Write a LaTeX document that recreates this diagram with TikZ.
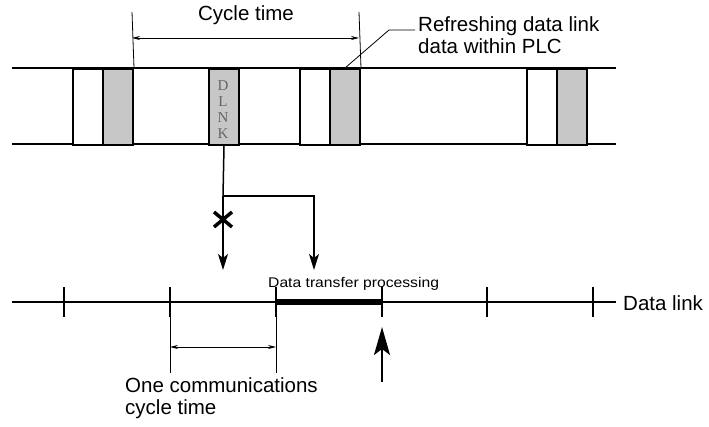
\documentclass[tikz,border=0pt]{standalone}
\usepackage{fontspec}
\setmainfont{Liberation Sans}
\newfontfamily\widesans[FakeStretch=1.12]{Liberation Sans}
\newfontfamily\dlnkfont{Liberation Serif}
\usetikzlibrary{arrows.meta}
\begin{document}
\begin{tikzpicture}[x=1pt,y=-1pt,
  band/.style={line width=2pt},
  wbox/.style={draw,line width=2pt,fill=white,minimum width=30pt,minimum height=76pt,inner sep=0pt,anchor=north west},
  gbox/.style={draw,line width=2pt,fill=black!22,minimum width=30pt,minimum height=76pt,inner sep=0pt,anchor=north west},
  thin/.style={line width=0.8pt},
  dim/.style={line width=0.8pt,{Stealth[length=8pt,width=4pt]}-{Stealth[length=8pt,width=4pt]}},
  flow/.style={line width=1.5pt,-{Stealth[length=16pt,width=10pt,inset=4pt]}},
  bigup/.style={line width=2pt,-{Stealth[length=28pt,width=16pt,inset=6pt]}},
  lbl/.style={font=\fontsize{20.5}{22.5}\selectfont,inner sep=0pt},
  tick/.style={line width=2pt},
  dlnk/.style={font=\dlnkfont\fontsize{15}{16}\selectfont,text=black!60,inner sep=0pt}
]
\useasboundingbox (0,0) rectangle (709,427);
% band
\coordinate (bandTL) at (12,68);
\coordinate (bandTR) at (616,68);
\coordinate (bandBL) at (12,144);
\coordinate (bandBR) at (616,144);
\draw[band] (bandTL) -- (bandTR);
\draw[band] (bandBL) -- (bandBR);
\node[wbox] (w1) at (72,68) {};
\node[gbox] (g1) at (102,68) {};
\node[gbox] (dl) at (208,68) {};
\node[wbox] (w2) at (299,68) {};
\node[gbox] (g2) at (329,68) {};
\node[wbox] (w3) at (526,68) {};
\node[gbox] (g3) at (556,68) {};
% DLNK letters
\node[dlnk] (lD) at (223,86) {D};
\node[dlnk] (lL) at (223,102) {L};
\node[dlnk] (lN) at (223,118) {N};
\node[dlnk] (lK) at (223,134) {K};
% cycle time
\coordinate (ct1) at (132,12);
\coordinate (ct2) at (359,12);
\draw[thin] (ct1) -- (g1.north east);
\draw[thin] (ct2) -- (g2.north east);
\coordinate (ca1) at (132,38);
\coordinate (ca2) at (359,38);
\draw[dim] (ca1) -- (ca2);
\node[lbl] (cyc) at (246,15) {Cycle time};
% refreshing
\node[lbl,align=left,anchor=north west] (ref) at (418,16) {Refreshing data link\\data within PLC};
\coordinate (refk) at (389,30);
\coordinate (refe) at (415,30);
\coordinate (refs) at (345,68);
\draw[thin] (refs) -- (refk) -- (refe);
% flows from DLNK
\coordinate (br) at (223,196);
\coordinate (a1) at (223,270);
\coordinate (br2) at (314,196);
\coordinate (a2) at (314,270);
\draw[line width=1.5pt] (dl.south) -- (br);
\draw[flow] (br) -- (a1);
\draw[flow] (br) -- (br2) -- (a2);
\draw[line width=3.5pt] (214,212) -- (232,227) (214,227) -- (232,212);
% data link line
\coordinate (dlA) at (12,302);
\coordinate (dlB) at (616,302);
\draw[line width=2pt] (dlA) -- (dlB);
\node[lbl,anchor=west] (dlt) at (623,303) {Data link};
\foreach \x/\n in {64/t1,170/t2,276/t3,382/t4,487/t5,593/t6}{
  \coordinate (\n a) at (\x,287);
  \coordinate (\n b) at (\x,317);
  \draw[tick] (\n a) -- (\n b);
}
\draw[line width=6pt] (t3a |- dlA) -- (t4a |- dlA);
\node[font=\widesans\fontsize{14}{16}\selectfont,inner sep=0pt,anchor=base west] (dtp) at (268,288) {Data transfer processing};
% one comm cycle
\coordinate (oc1) at (170,373);
\coordinate (oc2) at (276,373);
\draw[thin] (t2b) -- (oc1);
\draw[thin] (t3b) -- (oc2);
\coordinate (oa1) at (170,347);
\coordinate (oa2) at (276,347);
\draw[dim] (oa1) -- (oa2);
\node[lbl,align=left,anchor=north west] (one) at (125,377) {One communications\\cycle time};
% up arrow
\coordinate (up1) at (382,382);
\coordinate (up2) at (382,327);
\draw[bigup] (up1) -- (up2);
\end{tikzpicture}
\end{document}
